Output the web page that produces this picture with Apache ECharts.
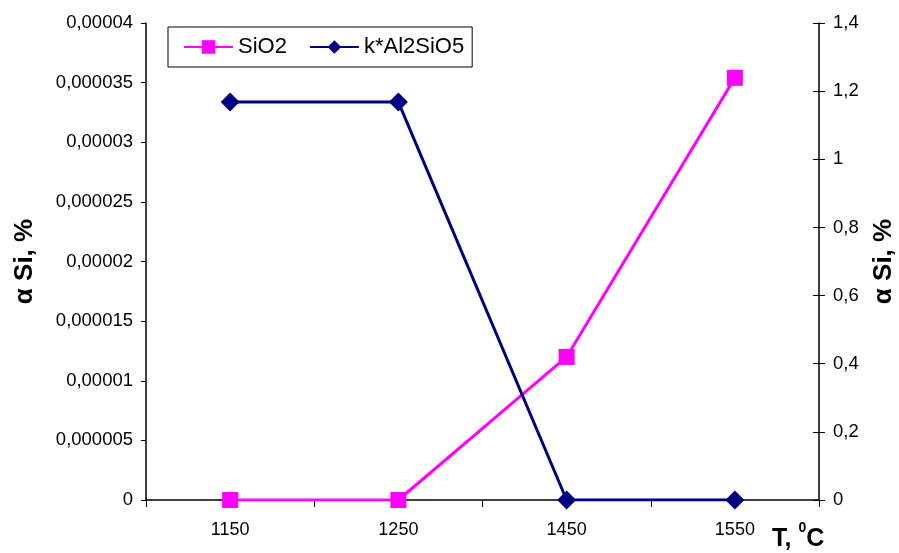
<!DOCTYPE html>
<html>
<head>
<meta charset="utf-8">
<script src="https://cdn.jsdelivr.net/npm/echarts@6/dist/echarts.min.js"></script>
<style>
  html, body { margin: 0; padding: 0; background: #fff; }
  #chart { width: 899px; height: 553px; }
</style>
</head>
<body>
<div id="chart"></div>
<script>
// temperatures, deg C
var temps = ['1150', '1250', '1450', '1550'];
// SiO2 (left axis)
var sio2 = [0, 0, 0.000012, 0.0000354];
// k*Al2SiO5 (right axis)
var kAl2SiO5 = [1.168, 1.168, 0, 0];

function comma(v) {
    return String(v).replace('.', ',');
}

var font = 'Liberation Sans, Arial, sans-serif';
var nameStyle = { fontSize: 26, fontWeight: 'bold', color: '#000', fontFamily: font };

var option = {
    backgroundColor: '#ffffff',
    textStyle: { fontFamily: font },
    animation: false,
    grid: { left: 146, right: 80, top: 23, bottom: 53, outerBoundsMode: 'none' },
    legend: {
        left: 168,
        top: 27,
        orient: 'horizontal',
        borderColor: '#000',
        borderWidth: 1,
        padding: [9, 8, 9, 15],
        itemGap: 22,
        itemWidth: 49,
        itemHeight: 17,
        textStyle: { fontSize: 22, color: '#000', fontFamily: font },
        data: ['SiO2', 'k*Al2SiO5']
    },
    xAxis: {
        type: 'category',
        data: temps,
        boundaryGap: true,
        axisLine: { lineStyle: { color: '#000', width: 1.5 } },
        axisTick: { show: true, length: 7, lineStyle: { color: '#000' } },
        axisLabel: { color: '#000', fontSize: 18, margin: 21 },
        splitLine: { show: false }
    },
    yAxis: [
        {
            type: 'value',
            min: 0,
            max: 0.00004,
            interval: 0.000005,
            name: 'α Si, %',
            nameLocation: 'middle',
            nameRotate: 90,
            nameGap: 108,
            nameTextStyle: nameStyle,
            axisLine: { show: true, lineStyle: { color: '#000', width: 1.5 } },
            axisTick: { show: true, length: 5, lineStyle: { color: '#000' } },
            axisLabel: { color: '#000', fontSize: 18.5, margin: 13, formatter: comma },
            splitLine: { show: false }
        },
        {
            type: 'value',
            min: 0,
            max: 1.4,
            interval: 0.2,
            position: 'right',
            name: 'α Si, %',
            nameLocation: 'middle',
            nameRotate: 90,
            nameGap: 52,
            nameTextStyle: nameStyle,
            axisLine: { show: true, lineStyle: { color: '#000', width: 1.5 } },
            axisTick: { show: true, length: 6, lineStyle: { color: '#000' } },
            axisLabel: { color: '#000', fontSize: 18.5, margin: 14, formatter: comma },
            splitLine: { show: false }
        },
        {
            // inner half of the right axis ticks (they cross the line)
            type: 'value',
            min: 0,
            max: 1.4,
            interval: 0.2,
            position: 'right',
            axisLine: { show: false },
            axisTick: { show: true, inside: true, length: 6, lineStyle: { color: '#000' } },
            axisLabel: { show: false },
            splitLine: { show: false }
        }
    ],
    graphic: [
        {
            type: 'text',
            left: 772,
            top: 521,
            style: {
                rich: {
                    a: { fontSize: 25, fontWeight: 'bold', fontFamily: font, fill: '#000', verticalAlign: 'bottom', lineHeight: 31 },
                    s: { fontSize: 14, fontWeight: 'bold', fontFamily: font, fill: '#000', verticalAlign: 'top', lineHeight: 31 }
                },
                text: '{a|T, }{s|0}{a|C}'
            }
        }
    ],
    series: [
        {
            name: 'SiO2',
            type: 'line',
            yAxisIndex: 0,
            data: sio2,
            symbol: 'rect',
            symbolSize: 16,
            itemStyle: { color: '#ff00ff' },
            lineStyle: { color: '#ff00ff', width: 3 },
            z: 3
        },
        {
            name: 'k*Al2SiO5',
            type: 'line',
            yAxisIndex: 1,
            data: kAl2SiO5,
            symbol: 'diamond',
            symbolSize: 19,
            itemStyle: { color: '#000080' },
            lineStyle: { color: '#000080', width: 3 },
            z: 4
        }
    ]
};

var myChart = echarts.init(document.getElementById('chart'));
myChart.setOption(option);
</script>
</body>
</html>
